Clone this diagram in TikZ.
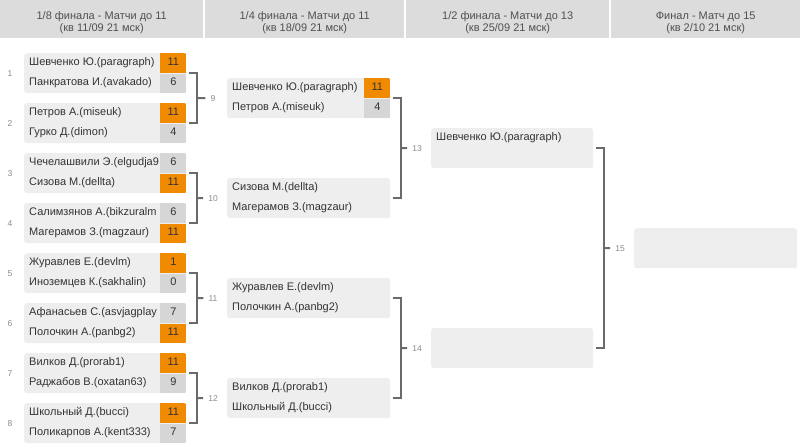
\documentclass[tikz,border=0pt]{standalone}
\usepackage{fontspec}
\setmainfont{Liberation Sans}
\usetikzlibrary{calc}
\definecolor{hdrbg}{HTML}{DCDCDC}
\definecolor{namebg}{HTML}{EEEEEE}
\definecolor{win}{HTML}{F08A00}
\definecolor{lose}{HTML}{D6D6D6}
\definecolor{txt}{HTML}{333333}
\definecolor{hdrtxt}{HTML}{505050}
\definecolor{lbl}{HTML}{8A8A8A}
\definecolor{brk}{HTML}{6A6A6A}
\tikzset{
  hdrbox/.style={fill=hdrbg, draw=none, anchor=north west, minimum height=38pt, inner sep=0pt},
  hdrtext/.style={align=center, text=hdrtxt, font=\fontsize{11}{12.5}\selectfont, inner sep=0pt},
  matchbox/.style={fill=namebg, draw=none, rounded corners=2.5pt, anchor=north west, minimum height=40pt, inner sep=0pt},
  pname/.style={anchor=west, text=txt, font=\fontsize{11}{13}\selectfont, inner sep=0pt, text height=8pt, text depth=2.5pt},
  pscore/.style={text=txt, font=\fontsize{11}{13}\selectfont, inner sep=0pt, text height=8pt, text depth=2.5pt},
  numlbl/.style={text=lbl, font=\fontsize{8.5}{10}\selectfont, inner sep=0pt},
  bracket/.style={draw=brk, line width=2pt},
}
% match node: name, x, y (top-left), width, number
\newcommand\MT[5]{%
  \node[matchbox, minimum width=#4pt] (#1) at (#2,#3) {};
  \node[numlbl] (l#1) at ($(#1.west)+(-14,0)$) {#5};}
% player row: match, row (1/2), name
\newcommand\PN[3]{%
  \node[pname] at ($(#1.north west)+(5,{(#2-1)*20+10})$) {#3};}
% score cell: match, row, score, colour
\newcommand\PS[4]{%
  \begin{scope}
    \clip[rounded corners=2.5pt] (#1.north west) rectangle (#1.south east);
    \fill[#4] ($(#1.north east)+(-26,{(#2-1)*20.5})$) rectangle ($(#1.north east)+(0,{(#2-1)*20.5+19.5})$);
  \end{scope}
  \node[pscore] at ($(#1.north east)+(-13,{(#2-1)*20+10})$) {#3};}
% bracket: upper match, lower match, label of next match
\newcommand\BR[3]{%
  \draw[bracket] ($(#1.east)+(3,0)$) -- ($(#1.east)+(11,0)$) |- ($(#2.east)+(3,0)$);
  \draw[bracket] ($(#1.east)!0.5!(#2.east)+(11,0)$) -- ($(#3.west)+(-5,0)$);}
\begin{document}
\begin{tikzpicture}[x=1pt,y=-1pt]
\useasboundingbox (0,0) rectangle (800,447);
% headers
\node[hdrbox, minimum width=203pt] (h1) at (0,0) {};
\node[hdrbox, minimum width=199pt] (h2) at (205,0) {};
\node[hdrbox, minimum width=203pt] (h3) at (406,0) {};
\node[hdrbox, minimum width=189pt] (h4) at (611,0) {};
\node[hdrtext] at ($(h1.center)+(0,3.5)$) {1/8 финала - Матчи до 11\\(кв 11/09 21 мск)};
\node[hdrtext] at ($(h2.center)+(0,3.5)$) {1/4 финала - Матчи до 11\\(кв 18/09 21 мск)};
\node[hdrtext] at ($(h3.center)+(0,3.5)$) {1/2 финала - Матчи до 13\\(кв 25/09 21 мск)};
\node[hdrtext] at ($(h4.center)+(0,3.5)$) {Финал - Матч до 15\\(кв 2/10 21 мск)};
% round 1/8
\MT{m1}{24}{53}{162}{1}
\MT{m2}{24}{103}{162}{2}
\MT{m3}{24}{153}{162}{3}
\MT{m4}{24}{203}{162}{4}
\MT{m5}{24}{253}{162}{5}
\MT{m6}{24}{303}{162}{6}
\MT{m7}{24}{353}{162}{7}
\MT{m8}{24}{403}{162}{8}
% round 1/4
\MT{m9}{227}{78}{163}{9}
\MT{m10}{227}{178}{163}{10}
\MT{m11}{227}{278}{163}{11}
\MT{m12}{227}{378}{163}{12}
% round 1/2
\MT{m13}{431}{128}{162}{13}
\MT{m14}{431}{328}{162}{14}
% final
\MT{m15}{634}{228}{163}{15}
% players
\PN{m1}{1}{Шевченко Ю.(paragraph)}\PN{m1}{2}{Панкратова И.(avakado)}
\PS{m1}{1}{11}{win}\PS{m1}{2}{6}{lose}
\PN{m2}{1}{Петров А.(miseuk)}\PN{m2}{2}{Гурко Д.(dimon)}
\PS{m2}{1}{11}{win}\PS{m2}{2}{4}{lose}
\PN{m3}{1}{Чечелашвили Э.(elgudja9}\PN{m3}{2}{Сизова М.(dellta)}
\PS{m3}{1}{6}{lose}\PS{m3}{2}{11}{win}
\PN{m4}{1}{Салимзянов А.(bikzuralm}\PN{m4}{2}{Магерамов З.(magzaur)}
\PS{m4}{1}{6}{lose}\PS{m4}{2}{11}{win}
\PN{m5}{1}{Журавлев Е.(devlm)}\PN{m5}{2}{Иноземцев К.(sakhalin)}
\PS{m5}{1}{1}{win}\PS{m5}{2}{0}{lose}
\PN{m6}{1}{Афанасьев С.(asvjagplay}\PN{m6}{2}{Полочкин А.(panbg2)}
\PS{m6}{1}{7}{lose}\PS{m6}{2}{11}{win}
\PN{m7}{1}{Вилков Д.(prorab1)}\PN{m7}{2}{Раджабов В.(oxatan63)}
\PS{m7}{1}{11}{win}\PS{m7}{2}{9}{lose}
\PN{m8}{1}{Школьный Д.(bucci)}\PN{m8}{2}{Поликарпов А.(kent333)}
\PS{m8}{1}{11}{win}\PS{m8}{2}{7}{lose}
\PN{m9}{1}{Шевченко Ю.(paragraph)}\PN{m9}{2}{Петров А.(miseuk)}
\PS{m9}{1}{11}{win}\PS{m9}{2}{4}{lose}
\PN{m10}{1}{Сизова М.(dellta)}\PN{m10}{2}{Магерамов З.(magzaur)}
\PN{m11}{1}{Журавлев Е.(devlm)}\PN{m11}{2}{Полочкин А.(panbg2)}
\PN{m12}{1}{Вилков Д.(prorab1)}\PN{m12}{2}{Школьный Д.(bucci)}
\PN{m13}{1}{Шевченко Ю.(paragraph)}
% brackets
\BR{m1}{m2}{lm9}
\BR{m3}{m4}{lm10}
\BR{m5}{m6}{lm11}
\BR{m7}{m8}{lm12}
\BR{m9}{m10}{lm13}
\BR{m11}{m12}{lm14}
\BR{m13}{m14}{lm15}
\end{tikzpicture}
\end{document}
